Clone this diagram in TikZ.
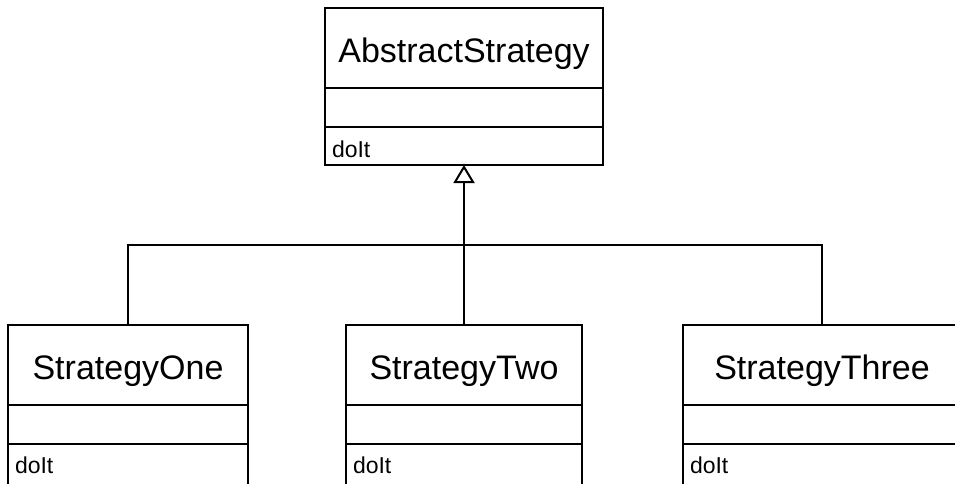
\documentclass[tikz,border=0pt]{standalone}
\usepackage{fontspec}
\setmainfont{Liberation Sans}
\usetikzlibrary{arrows.meta}
\begin{document}
\begin{tikzpicture}[x=1pt, y=-1pt,
  every node/.style={draw, line width=2pt, inner sep=0pt, outer sep=0pt},
  titlebox/.style={minimum height=80pt, text height=28pt, text depth=0pt,
                   font=\fontsize{34}{40}\selectfont},
  attrbox/.style={minimum height=39pt},
  opbox/.style={minimum height=38pt, text height=22pt, text depth=0pt, inner xsep=7pt,
                font=\fontsize{23}{27}\selectfont, align=left},
  openop/.style={opbox, minimum height=44pt, text height=14pt},
  link/.style={line width=2pt},
  inherit/.style={link, -{Triangle[open, width=21pt, length=18pt, line width=2pt]}}]
\useasboundingbox (0,0) rectangle (955,483);
\clip (0,0) rectangle (955,483);

% abstract base class
\node[titlebox, minimum width=278pt, anchor=north west] (abs) at (325,8) {AbstractStrategy};
\node[attrbox, minimum width=278pt, anchor=north] (absattr) at (abs.south) {};
\node[opbox, minimum width=278pt, text width=264pt, anchor=north] (absop) at (absattr.south) {doIt};

% concrete strategies
\node[titlebox, minimum width=240pt, anchor=north west] (one) at (8,325) {StrategyOne};
\node[attrbox, minimum width=240pt, anchor=north] (oneattr) at (one.south) {};
\node[openop, minimum width=240pt, text width=226pt, anchor=north] (oneop) at (oneattr.south) {doIt};

\node[titlebox, minimum width=236pt, anchor=north west] (two) at (346,325) {StrategyTwo};
\node[attrbox, minimum width=236pt, anchor=north] (twoattr) at (two.south) {};
\node[openop, minimum width=236pt, text width=222pt, anchor=north] (twoop) at (twoattr.south) {doIt};

\node[titlebox, minimum width=278pt, anchor=north west] (three) at (683,325) {StrategyThree};
\node[attrbox, minimum width=278pt, anchor=north] (threeattr) at (three.south) {};
\node[openop, minimum width=278pt, text width=264pt, anchor=north] (threeop) at (threeattr.south) {doIt};

% generalization tree
\coordinate (bus) at (464,245);
\draw[link] (one.north) |- (bus) -| (three.north);
\draw[link] (two.north) -- (two.north |- bus);
\draw[inherit] (bus) -- (absop.south);
\end{tikzpicture}
\end{document}
